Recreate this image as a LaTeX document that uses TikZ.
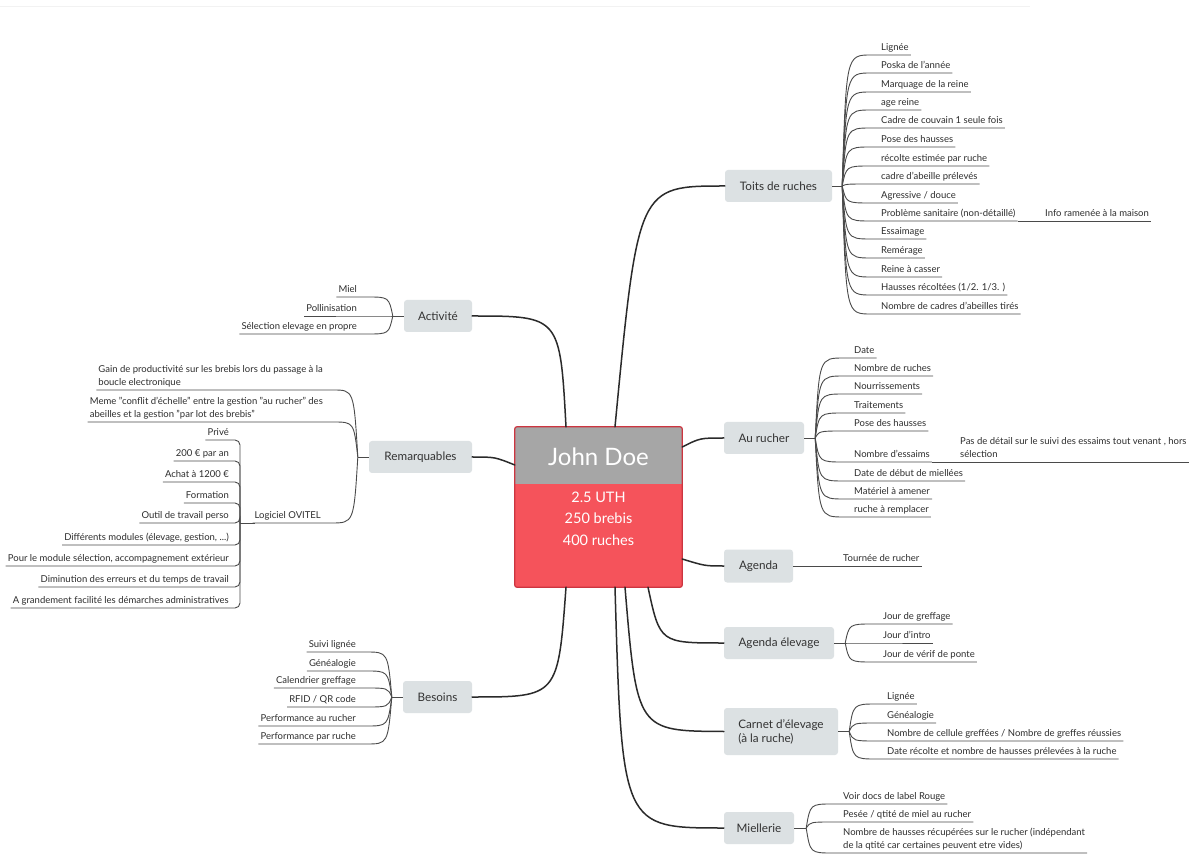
\documentclass[tikz,border=0pt]{standalone}
\usepackage{fontspec}
\setmainfont{Lato}
\usetikzlibrary{calc}
\definecolor{topicfill}{HTML}{DCE1E3}
\definecolor{textc}{HTML}{333333}
\definecolor{leaftext}{HTML}{2E2E2E}
\definecolor{linec}{HTML}{4A4A4A}
\definecolor{trunkc}{HTML}{2A2A2A}
\definecolor{centerred}{HTML}{F5535B}
\definecolor{centergrey}{HTML}{A6A6A6}
\definecolor{centerborder}{HTML}{CC3540}
\definecolor{faint}{HTML}{F2F2F2}

\newcommand\leafR[5]{%
  \node[leaf,anchor=south west] (#1) at (#3,#4-0.5) {#5};
  \draw[branch] let \p1=(#2), \p2=(#3-10,#4), \p3=(#1.east) in
    (\p1) .. controls (\x1+4pt,\y2) .. (\p2) -- (\x3+2pt,\y2);
}
\newcommand\leafL[5]{%
  \node[leaf,anchor=south east] (#1) at (#3,#4-0.5) {#5};
  \draw[branch] let \p1=(#2), \p2=(#3+10,#4), \p3=(#1.west) in
    (\p1) .. controls (\x1-4pt,\y2) .. (\p2) -- (\x3-2pt,\y2);
}
\newcommand\leafV[5]{%
  \node[leaf,anchor=south east] (#1) at (#3,#4-0.5) {#5};
  \draw[branch,rounded corners=5pt] let \p2=(0,#4), \p3=(#1.west) in
    (#2) |- (\x3-2pt,\y2);
}

\begin{document}
\begin{tikzpicture}[x=1pt,y=-1pt,
  topic/.style={fill=topicfill, rounded corners=3pt, text=textc,
    font=\fontsize{11.7}{14}\selectfont, inner sep=0pt, align=center},
  leaf/.style={inner xsep=0pt, inner ysep=1pt, text depth=2.5pt, text=leaftext,
    font=\fontsize{9.5}{13}\selectfont},
  branch/.style={draw=linec, line width=0.9pt},
  trunk/.style={draw=trunkc, line width=1.5pt, line cap=round}]

\fill[white] (0,0) rectangle (1192,866);
\useasboundingbox (0,0) rectangle (1192,866);
\draw[faint, line width=1pt] (0,7) -- (1030,7);

% ---------- central topic ----------
\node[minimum width=167, minimum height=160, inner sep=0pt] (center) at (598.5,507) {};
\fill[centerred, rounded corners=2pt] (center.north west) rectangle (center.south east);
\fill[centergrey] (center.north west) rectangle ($(center.north east)+(0,57)$);
\draw[centerborder, line width=1.2pt, rounded corners=2pt] (center.north west) rectangle (center.south east);
\node[text=white, font=\fontsize{24}{28}\selectfont] (name) at (598.5,457) {John Doe};
\node[text=white, font=\fontsize{14.5}{21.5}\selectfont, align=center] (stats) at (598.5,518.5) {2.5 UTH\\250 brebis\\400 ruches};

% ---------- main topics ----------
\node[topic, minimum width=107, minimum height=32] (toits) at (778.5,186) {Toits de ruches};
\node[topic, minimum width=80, minimum height=32] (aurucher) at (764,438) {Au rucher};
\node[topic, minimum width=69, minimum height=33] (agenda) at (758.5,566) {Agenda};
\node[topic, minimum width=110, minimum height=32] (agel) at (779,643) {Agenda élevage};
\node[topic, minimum width=114, minimum height=47, align=left] (carnet) at (781,731.5) {Carnet d'élevage\\(à la ruche)};
\node[topic, minimum width=70, minimum height=32] (miel) at (759,828) {Miellerie};
\node[topic, minimum width=68, minimum height=32] (activite) at (438,316) {Activité};
\node[topic, minimum width=103, minimum height=32] (remarq) at (420.5,457) {Remarquables};
\node[topic, minimum width=69, minimum height=32] (besoins) at (437.5,697) {Besoins};

% ---------- trunk connectors ----------
\draw[trunk] (activite.east) .. controls (560,316) .. ($(center.north)+(-32.5,0)$);
\draw[trunk] ($(center.north)+(16.5,0)$) .. controls (638,186) .. (toits.west);
\draw[trunk] ($(center.east)+(0,-60)$) .. controls (700,438) .. (aurucher.west);
\draw[trunk] (remarq.east) .. controls (495,457) .. ($(center.west)+(0,-42)$);
\draw[trunk] ($(center.east)+(0,52)$) .. controls (705,566) .. (agenda.west);
\draw[trunk] ($(center.south)+(49.5,0)$) .. controls (660,643) .. (agel.west);
\draw[trunk] ($(center.south)+(26.5,0)$) .. controls (637,731) .. (carnet.west);
\draw[trunk] ($(center.south)+(16.5,0)$) .. controls (622,828) .. (miel.west);
\draw[trunk] ($(center.south)+(-32.5,0)$) .. controls (558,697) .. (besoins.east);

% ---------- hubs ----------
\coordinate (hT) at ($(toits.east)+(10,0)$);
\coordinate (hA) at ($(aurucher.east)+(11,0)$);
\coordinate (hE) at ($(agel.east)+(11,0)$);
\coordinate (hC) at ($(carnet.east)+(11,0)$);
\coordinate (hM) at ($(miel.east)+(12,0)$);
\coordinate (hAc) at ($(activite.west)+(-11,0)$);
\coordinate (hR) at ($(remarq.west)+(-11,0)$);
\coordinate (hB) at ($(besoins.west)+(-11,0)$);
\foreach \t/\h in {toits/hT, aurucher/hA, agel/hE, carnet/hC, miel/hM}
  \draw[branch] (\t.east) -- (\h);
\foreach \t/\h in {activite/hAc, remarq/hR, besoins/hB}
  \draw[branch] (\t.west) -- (\h);

% ---------- Toits de ruches ----------
\leafR{t1}{hT}{881}{55}{Lignée}
\leafR{t2}{hT}{881}{73}{Poska de l'année}
\leafR{t3}{hT}{881}{92}{Marquage de la reine}
\leafR{t4}{hT}{881}{110}{age reine}
\leafR{t5}{hT}{881}{128}{Cadre de couvain 1 seule fois}
\leafR{t6}{hT}{881}{147}{Pose des hausses}
\leafR{t7}{hT}{881}{166}{récolte estimée par ruche}
\leafR{t8}{hT}{881}{184}{cadre d'abeille prélevés}
\leafR{t9}{hT}{881}{203}{Agressive / douce}
\leafR{t10}{hT}{881}{221}{Problème sanitaire (non-détaillé)}
\leafR{t11}{hT}{881}{239}{Essaimage}
\leafR{t12}{hT}{881}{258}{Remérage}
\leafR{t13}{hT}{881}{277}{Reine à casser}
\leafR{t14}{hT}{881}{295}{Hausses récoltées (1/2. 1/3. )}
\leafR{t15}{hT}{881}{314}{Nombre de cadres d'abeilles tirés}
\node[leaf,anchor=south west] (info) at (1045,220.5) {Info ramenée à la maison};
\draw[branch] let \p1=(t10.east), \p2=(info.east), \p3=(0,221) in (\x1+2pt,\y3) -- (\x2+2pt,\y3);

% ---------- Au rucher ----------
\leafR{a1}{hA}{854}{358}{Date}
\leafR{a2}{hA}{854}{376}{Nombre de ruches}
\leafR{a3}{hA}{854}{394}{Nourrissements}
\leafR{a4}{hA}{854}{413}{Traitements}
\leafR{a5}{hA}{854}{431}{Pose des hausses}
\leafR{a6}{hA}{854}{462}{Nombre d'essaims}
\leafR{a7}{hA}{854}{481}{Date de début de miellées}
\leafR{a8}{hA}{854}{499}{Matériel à amener}
\leafR{a9}{hA}{854}{517}{ruche à remplacer}
\node[leaf,anchor=south west] (pas) at (960,461.5) {\begin{tabular}[b]{@{}l@{}}Pas de détail sur le suivi des essaims tout venant , hors\\sélection\end{tabular}};
\draw[branch] let \p1=(a6.east), \p2=(pas.east), \p3=(0,462) in (\x1+2pt,\y3) -- (\x2+2pt,\y3);

% ---------- Agenda ----------
\node[leaf,anchor=south west] (tournee) at (843,565.5) {Tournée de rucher};
\draw[branch] let \p1=(agenda.east), \p2=(tournee.east) in (\p1) -- (\x2+2pt,\y1);

% ---------- Agenda élevage ----------
\leafR{e1}{hE}{883}{624}{Jour de greffage}
\leafR{e2}{hE}{883}{643}{Jour d'intro}
\leafR{e3}{hE}{883}{662}{Jour de vérif de ponte}

% ---------- Carnet ----------
\leafR{c1}{hC}{887}{704}{Lignée}
\leafR{c2}{hC}{887}{723}{Généalogie}
\leafR{c3}{hC}{887}{741}{Nombre de cellule greffées / Nombre de greffes réussies}
\leafR{c4}{hC}{887}{759}{Date récolte et nombre de hausses prélevées à la ruche}

% ---------- Miellerie ----------
\leafR{m1}{hM}{843}{804}{Voir docs de label Rouge}
\leafR{m2}{hM}{843}{822}{Pesée / qtité de miel au rucher}
\leafR{m3}{hM}{843}{853}{\begin{tabular}[b]{@{}l@{}}Nombre de hausses récupérées sur le rucher (indépendant\\de la qtité car certaines peuvent etre vides)\end{tabular}}

% ---------- Activité ----------
\leafL{ac1}{hAc}{357}{297}{Miel}
\leafL{ac2}{hAc}{357}{316}{Pollinisation}
\leafL{ac3}{hAc}{357}{334}{Sélection elevage en propre}

% ---------- Remarquables ----------
\leafL{r1}{hR}{323}{390}{\begin{tabular}[b]{@{}l@{}}Gain de productivité sur les brebis lors du passage à la\\boucle electronique\end{tabular}}
\leafL{r2}{hR}{323}{422}{\begin{tabular}[b]{@{}l@{}}Meme "conflit d'échelle" entre la gestion "au rucher" des\\abeilles et la gestion "par lot des brebis"\end{tabular}}
\leafL{ovitel}{hR}{321}{523}{Logiciel OVITEL}
\coordinate (ovhub) at (240,523);
\draw[branch] (ovhub) -- (ovitel.west |- ovhub);
\leafV{o1}{ovhub}{229}{440}{Privé}
\leafV{o2}{ovhub}{229}{461}{200 € par an}
\leafV{o3}{ovhub}{229}{482}{Achat à 1200 €}
\leafV{o4}{ovhub}{229}{503}{Formation}
\leafV{o5}{ovhub}{229}{523}{Outil de travail perso}
\leafV{o6}{ovhub}{229}{545}{Différents modules (élevage, gestion, ...)}
\leafV{o7}{ovhub}{229}{566}{Pour le module sélection, accompagnement extérieur}
\leafV{o8}{ovhub}{229}{587}{Diminution des erreurs et du temps de travail}
\leafV{o9}{ovhub}{229}{608}{A grandement facilité les démarches administratives}

% ---------- Besoins ----------
\leafL{b1}{hB}{356}{652}{Suivi lignée}
\leafL{b2}{hB}{356}{671}{Généalogie}
\leafL{b3}{hB}{356}{688}{Calendrier greffage}
\leafL{b4}{hB}{356}{707}{RFID / QR code}
\leafL{b5}{hB}{356}{726}{Performance au rucher}
\leafL{b6}{hB}{356}{744}{Performance par ruche}

\end{tikzpicture}
\end{document}
